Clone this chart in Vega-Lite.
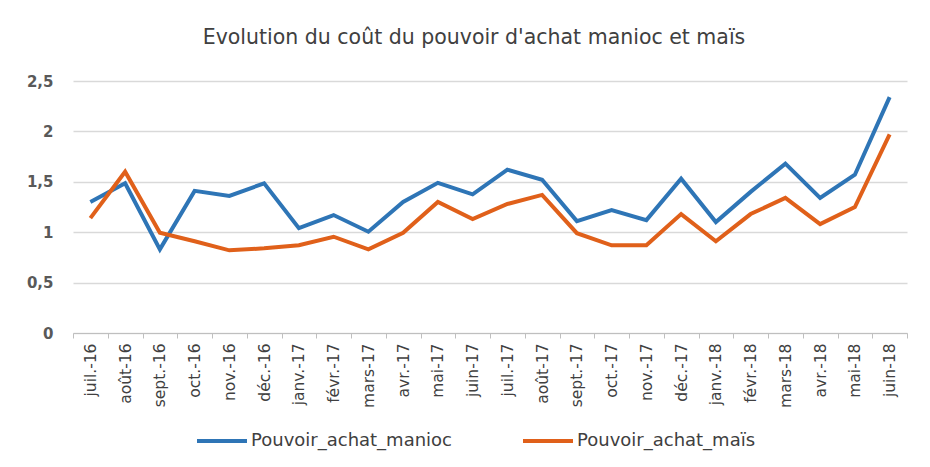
{
  "$schema": "https://vega.github.io/schema/vega-lite/v6.json",
  "width": 834,
  "height": 252,
  "autosize": "none",
  "padding": {"left": 73, "top": 81, "right": 23, "bottom": 134},
  "background": "white",
  "title": {"text": "Evolution du coût du pouvoir d'achat manioc et maïs", "anchor": "middle", "offset": 26, "dx": -16, "fontSize": 20.5, "font": "DejaVu Sans", "fontWeight": "normal", "color": "#404040"},
  "config": {"view": {"stroke": null}, "font": "DejaVu Sans"},
  "data": {"values": [
    {"mois": "juil.-16", "serie": "Pouvoir_achat_manioc", "valeur": 1.30},
    {"mois": "août-16", "serie": "Pouvoir_achat_manioc", "valeur": 1.485},
    {"mois": "sept.-16", "serie": "Pouvoir_achat_manioc", "valeur": 0.83},
    {"mois": "oct.-16", "serie": "Pouvoir_achat_manioc", "valeur": 1.41},
    {"mois": "nov.-16", "serie": "Pouvoir_achat_manioc", "valeur": 1.36},
    {"mois": "déc.-16", "serie": "Pouvoir_achat_manioc", "valeur": 1.485},
    {"mois": "janv.-17", "serie": "Pouvoir_achat_manioc", "valeur": 1.04},
    {"mois": "févr.-17", "serie": "Pouvoir_achat_manioc", "valeur": 1.17},
    {"mois": "mars-17", "serie": "Pouvoir_achat_manioc", "valeur": 1.005},
    {"mois": "avr.-17", "serie": "Pouvoir_achat_manioc", "valeur": 1.30},
    {"mois": "mai-17", "serie": "Pouvoir_achat_manioc", "valeur": 1.49},
    {"mois": "juin-17", "serie": "Pouvoir_achat_manioc", "valeur": 1.375},
    {"mois": "juil.-17", "serie": "Pouvoir_achat_manioc", "valeur": 1.62},
    {"mois": "août-17", "serie": "Pouvoir_achat_manioc", "valeur": 1.52},
    {"mois": "sept.-17", "serie": "Pouvoir_achat_manioc", "valeur": 1.11},
    {"mois": "oct.-17", "serie": "Pouvoir_achat_manioc", "valeur": 1.22},
    {"mois": "nov.-17", "serie": "Pouvoir_achat_manioc", "valeur": 1.12},
    {"mois": "déc.-17", "serie": "Pouvoir_achat_manioc", "valeur": 1.53},
    {"mois": "janv.-18", "serie": "Pouvoir_achat_manioc", "valeur": 1.10},
    {"mois": "févr.-18", "serie": "Pouvoir_achat_manioc", "valeur": 1.40},
    {"mois": "mars-18", "serie": "Pouvoir_achat_manioc", "valeur": 1.68},
    {"mois": "avr.-18", "serie": "Pouvoir_achat_manioc", "valeur": 1.34},
    {"mois": "mai-18", "serie": "Pouvoir_achat_manioc", "valeur": 1.57},
    {"mois": "juin-18", "serie": "Pouvoir_achat_manioc", "valeur": 2.34},
    {"mois": "juil.-16", "serie": "Pouvoir_achat_maïs", "valeur": 1.14},
    {"mois": "août-16", "serie": "Pouvoir_achat_maïs", "valeur": 1.60},
    {"mois": "sept.-16", "serie": "Pouvoir_achat_maïs", "valeur": 0.995},
    {"mois": "oct.-16", "serie": "Pouvoir_achat_maïs", "valeur": 0.91},
    {"mois": "nov.-16", "serie": "Pouvoir_achat_maïs", "valeur": 0.82},
    {"mois": "déc.-16", "serie": "Pouvoir_achat_maïs", "valeur": 0.84},
    {"mois": "janv.-17", "serie": "Pouvoir_achat_maïs", "valeur": 0.87},
    {"mois": "févr.-17", "serie": "Pouvoir_achat_maïs", "valeur": 0.955},
    {"mois": "mars-17", "serie": "Pouvoir_achat_maïs", "valeur": 0.83},
    {"mois": "avr.-17", "serie": "Pouvoir_achat_maïs", "valeur": 0.995},
    {"mois": "mai-17", "serie": "Pouvoir_achat_maïs", "valeur": 1.30},
    {"mois": "juin-17", "serie": "Pouvoir_achat_maïs", "valeur": 1.13},
    {"mois": "juil.-17", "serie": "Pouvoir_achat_maïs", "valeur": 1.28},
    {"mois": "août-17", "serie": "Pouvoir_achat_maïs", "valeur": 1.37},
    {"mois": "sept.-17", "serie": "Pouvoir_achat_maïs", "valeur": 0.99},
    {"mois": "oct.-17", "serie": "Pouvoir_achat_maïs", "valeur": 0.87},
    {"mois": "nov.-17", "serie": "Pouvoir_achat_maïs", "valeur": 0.87},
    {"mois": "déc.-17", "serie": "Pouvoir_achat_maïs", "valeur": 1.18},
    {"mois": "janv.-18", "serie": "Pouvoir_achat_maïs", "valeur": 0.91},
    {"mois": "févr.-18", "serie": "Pouvoir_achat_maïs", "valeur": 1.18},
    {"mois": "mars-18", "serie": "Pouvoir_achat_maïs", "valeur": 1.34},
    {"mois": "avr.-18", "serie": "Pouvoir_achat_maïs", "valeur": 1.08},
    {"mois": "mai-18", "serie": "Pouvoir_achat_maïs", "valeur": 1.25},
    {"mois": "juin-18", "serie": "Pouvoir_achat_maïs", "valeur": 1.97}
  ]},
  "mark": {"type": "line", "strokeWidth": 4, "strokeJoin": "miter"},
  "encoding": {
    "x": {
      "field": "mois", "type": "ordinal", "sort": null,
      "scale": {"paddingInner": 0, "paddingOuter": 0},
      "axis": {"title": null, "labelAngle": -90, "labelFontSize": 15.5, "labelColor": "#404040", "labelPadding": 5,
               "tickBand": "extent", "tickSize": 5, "tickColor": "#bfbfbf", "domainColor": "#bfbfbf", "grid": false}
    },
    "y": {
      "field": "valeur", "type": "quantitative",
      "scale": {"domain": [0, 2.5], "nice": false},
      "axis": {"title": null, "values": [0, 0.5, 1, 1.5, 2, 2.5], "labelExpr": "replace(format(datum.value, ''), '.', ',')",
               "labelFontSize": 15, "labelFontWeight": "bold", "labelColor": "#595959", "labelPadding": 20, "domain": false, "ticks": false,
               "gridColor": "#d9d9d9", "gridWidth": 1.5}
    },
    "color": {
      "field": "serie", "type": "nominal",
      "scale": {"domain": ["Pouvoir_achat_manioc", "Pouvoir_achat_maïs"], "range": ["#2e75b6", "#e0601a"]},
      "legend": {"title": null, "orient": "none", "direction": "horizontal", "legendX": 122, "legendY": 333, "padding": 0,
                 "symbolType": "stroke", "symbolSize": 2500, "symbolStrokeWidth": 4, "labelFontSize": 18, "labelLimit": 400,
                 "labelColor": "#404040", "columnPadding": 62, "labelOffset": 2}
    }
  }
}
